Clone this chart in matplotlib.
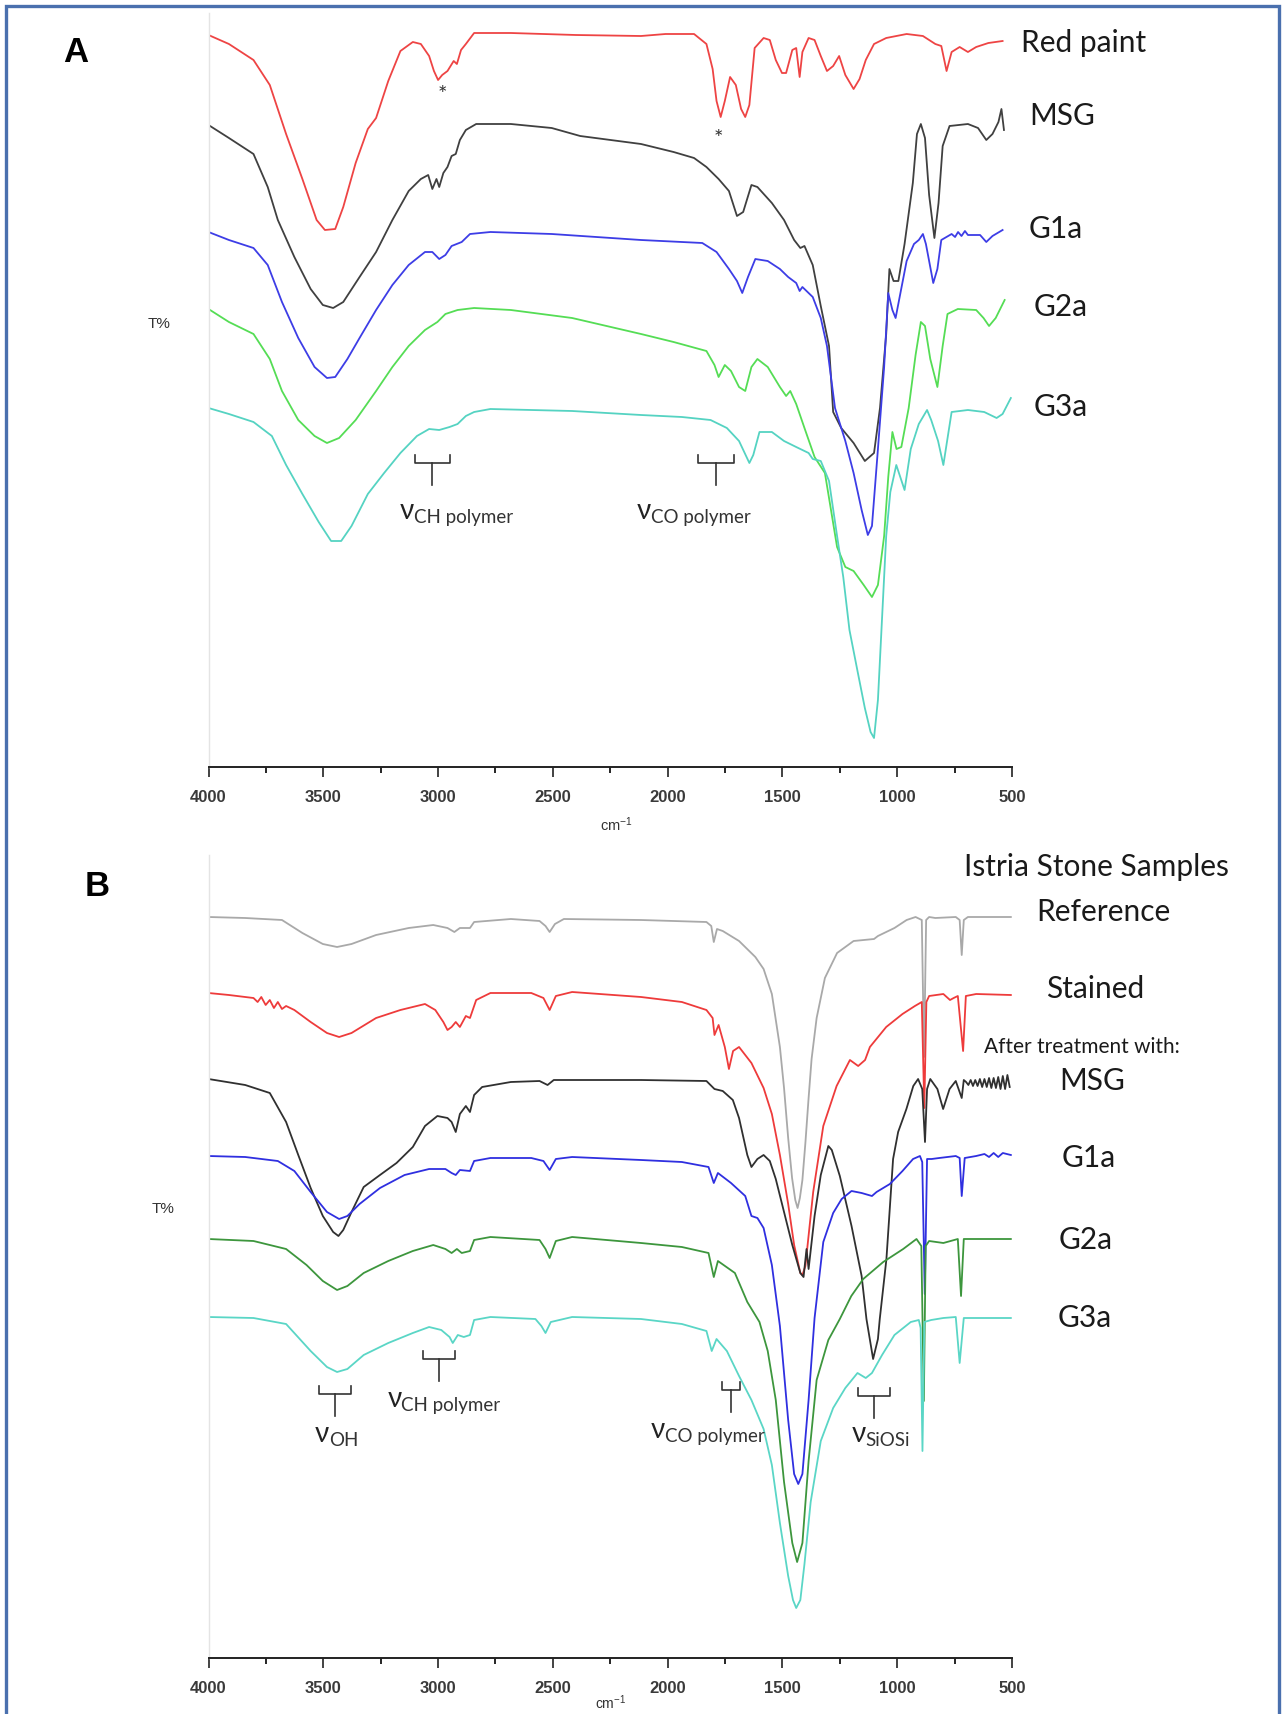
import matplotlib
matplotlib.use("Agg")
import matplotlib.pyplot as plt
from matplotlib.patches import Rectangle
from matplotlib.ticker import MultipleLocator

plt.rcParams['font.family'] = ['Lato', 'DejaVu Sans']
plt.rcParams['mathtext.default'] = 'regular'

# ---- Panel A: (wavenumber cm-1, T% offset a.u.) ----
red_paint = [(4000, 732), (3911, 723), (3804, 707), (3733, 682), (3662, 633), (3591, 588), (3529, 547),
             (3493, 537), (3448, 538), (3413, 560), (3359, 604), (3306, 638), (3270, 649), (3217, 686),
             (3164, 716), (3110, 725), (3075, 723), (3039, 711), (3018, 696), (3000, 687), (2982, 692),
             (2959, 696), (2932, 706), (2918, 703), (2900, 717), (2879, 723), (2843, 734), (2683, 734),
             (2400, 732), (2116, 731), (2009, 733), (1885, 733), (1831, 723), (1804, 698), (1787, 666),
             (1769, 650), (1751, 666), (1728, 690), (1703, 682), (1680, 658), (1662, 650), (1644, 662),
             (1621, 719), (1582, 729), (1555, 727), (1529, 707), (1502, 694), (1484, 694), (1457, 717),
             (1440, 719), (1425, 690), (1413, 715), (1386, 729), (1360, 727), (1333, 711), (1306, 696),
             (1279, 701), (1253, 711), (1226, 692), (1190, 678), (1164, 688), (1137, 707), (1101, 723),
             (1048, 729), (959, 733), (888, 731), (834, 723), (808, 721), (785, 696), (763, 715),
             (728, 720), (692, 715), (656, 720), (603, 724), (541, 726)]

msg_a = [(4000, 642), (3911, 629), (3804, 613), (3742, 580), (3698, 547), (3626, 510), (3555, 478),
         (3502, 462), (3457, 459), (3413, 465), (3342, 490), (3270, 515), (3199, 547), (3128, 576),
         (3075, 588), (3043, 592), (3025, 578), (3007, 588), (2995, 580), (2977, 594), (2959, 600),
         (2941, 611), (2923, 613), (2905, 627), (2879, 637), (2834, 643), (2683, 643), (2505, 639),
         (2381, 631), (2116, 623), (1974, 615), (1885, 609), (1831, 600), (1778, 588), (1733, 576),
         (1698, 551), (1671, 555), (1635, 582), (1609, 580), (1546, 564), (1493, 547), (1449, 527),
         (1422, 519), (1404, 521), (1368, 502), (1333, 461), (1297, 421), (1279, 355), (1244, 339),
         (1190, 324), (1141, 306), (1101, 314), (1075, 359), (1048, 433), (1034, 498), (1016, 486),
         (995, 486), (968, 523), (932, 584), (914, 633), (897, 643), (879, 629), (861, 572), (838, 529),
         (820, 564), (802, 621), (772, 641), (692, 643), (648, 639), (612, 627), (585, 633), (559, 645),
         (546, 658), (535, 637)]

g1a_a = [(4000, 535), (3911, 527), (3804, 519), (3742, 502), (3680, 465), (3609, 429), (3538, 400),
         (3484, 389), (3448, 390), (3395, 408), (3342, 429), (3270, 457), (3199, 482), (3128, 502),
         (3057, 515), (3025, 515), (2995, 508), (2968, 512), (2941, 521), (2897, 525), (2861, 533),
         (2772, 535), (2505, 533), (2116, 527), (1849, 524), (1787, 515), (1733, 498), (1698, 486),
         (1675, 474), (1650, 490), (1618, 508), (1564, 506), (1511, 498), (1475, 490), (1440, 484),
         (1425, 476), (1413, 480), (1368, 470), (1333, 449), (1306, 421), (1271, 359), (1226, 326),
         (1190, 294), (1155, 257), (1128, 232), (1110, 241), (1084, 318), (1057, 400), (1039, 474),
         (1021, 457), (1007, 449), (986, 474), (959, 506), (927, 523), (906, 527), (888, 533),
         (875, 523), (861, 506), (843, 484), (825, 498), (808, 527), (763, 533), (748, 530), (735, 535),
         (720, 531), (705, 536), (692, 532), (639, 532), (612, 525), (585, 531), (541, 537)]

g2a_a = [(4000, 458), (3911, 445), (3804, 433), (3733, 408), (3680, 376), (3609, 347), (3538, 331),
         (3484, 324), (3431, 329), (3359, 347), (3270, 376), (3199, 400), (3128, 421), (3057, 437),
         (3003, 445), (2968, 453), (2915, 457), (2843, 459), (2683, 457), (2416, 449), (2116, 433),
         (1974, 425), (1831, 416), (1796, 402), (1778, 390), (1751, 402), (1724, 396), (1689, 380),
         (1662, 376), (1635, 400), (1609, 408), (1564, 400), (1511, 380), (1484, 371), (1466, 376),
         (1440, 363), (1404, 339), (1360, 310), (1315, 294), (1297, 269), (1262, 220), (1226, 200),
         (1190, 196), (1146, 182), (1110, 170), (1084, 182), (1057, 231), (1039, 290), (1021, 335),
         (1003, 318), (982, 320), (950, 359), (920, 412), (897, 445), (879, 441), (856, 408),
         (825, 380), (802, 421), (781, 453), (736, 458), (656, 457), (624, 449), (600, 441),
         (571, 449), (532, 467)]

g3a_a = [(4000, 359), (3911, 353), (3804, 345), (3724, 331), (3662, 302), (3591, 273), (3520, 245),
         (3466, 226), (3422, 226), (3377, 241), (3306, 273), (3235, 294), (3164, 314), (3092, 331),
         (3039, 338), (2995, 337), (2950, 340), (2915, 343), (2879, 351), (2843, 355), (2772, 358),
         (2416, 356), (2116, 352), (1938, 350), (1813, 347), (1742, 339), (1689, 326), (1644, 304),
         (1627, 312), (1600, 335), (1546, 335), (1493, 326), (1440, 320), (1386, 314), (1368, 308),
         (1333, 306), (1297, 286), (1262, 231), (1235, 190), (1208, 137), (1173, 96), (1141, 59),
         (1116, 35), (1101, 29), (1084, 67), (1066, 149), (1048, 231), (1030, 275), (1004, 302),
         (968, 277), (941, 318), (906, 343), (870, 357), (852, 347), (822, 326), (799, 302),
         (763, 355), (692, 357), (621, 355), (567, 349), (541, 353), (505, 369)]

# ---- Panel B: Istria stone samples ----
reference = [(4000, 741), (3840, 740), (3680, 738), (3591, 725), (3502, 714), (3440, 711), (3377, 714),
             (3270, 723), (3128, 730), (3021, 733), (2959, 730), (2929, 726), (2905, 730), (2861, 730),
             (2843, 736), (2683, 739), (2558, 737), (2532, 732), (2514, 726), (2491, 734), (2452, 739),
             (2116, 738), (1831, 736), (1810, 732), (1799, 716), (1785, 729), (1760, 727), (1689, 717),
             (1618, 701), (1582, 689), (1546, 664), (1511, 611), (1493, 570), (1475, 520), (1458, 480),
             (1444, 458), (1434, 450), (1424, 460), (1413, 478), (1400, 515), (1386, 560), (1373, 599),
             (1351, 640), (1315, 680), (1262, 705), (1190, 717), (1101, 719), (1084, 722), (1012, 730),
             (959, 738), (920, 741), (893, 738), (883, 601), (874, 738), (861, 741), (834, 740),
             (745, 741), (728, 738), (719, 703), (710, 738), (692, 741), (505, 741)]

stained = [(4000, 665), (3911, 663), (3840, 661), (3804, 660), (3786, 656), (3770, 661), (3751, 653),
           (3733, 658), (3715, 650), (3698, 656), (3680, 649), (3662, 652), (3626, 648), (3555, 636),
           (3484, 625), (3431, 621), (3377, 625), (3270, 640), (3164, 648), (3057, 654), (3012, 648),
           (2977, 636), (2959, 628), (2941, 631), (2923, 636), (2905, 631), (2879, 642), (2861, 640),
           (2834, 658), (2772, 665), (2594, 665), (2541, 660), (2514, 648), (2487, 662), (2416, 666),
           (2116, 661), (1938, 656), (1831, 648), (1804, 640), (1796, 623), (1778, 633), (1751, 611),
           (1733, 589), (1715, 607), (1689, 611), (1635, 595), (1582, 570), (1546, 544), (1511, 503),
           (1475, 454), (1449, 413), (1422, 385), (1413, 383), (1400, 392), (1366, 466), (1322, 532),
           (1264, 572), (1206, 598), (1170, 592), (1140, 598), (1119, 611), (1048, 631), (977, 644),
           (923, 652), (893, 656), (882, 550), (873, 656), (861, 662), (799, 664), (770, 658),
           (754, 660), (736, 662), (713, 607), (701, 662), (656, 664), (505, 663)]

msg_b = [(4000, 579), (3840, 573), (3733, 565), (3662, 536), (3609, 503), (3555, 470), (3502, 442),
         (3457, 426), (3434, 422), (3413, 428), (3377, 446), (3324, 471), (3253, 483), (3181, 495),
         (3110, 511), (3057, 532), (3003, 542), (2959, 540), (2941, 536), (2923, 526), (2905, 544),
         (2879, 552), (2861, 546), (2843, 563), (2808, 571), (2683, 576), (2558, 577), (2523, 573),
         (2496, 578), (2116, 578), (1831, 577), (1796, 569), (1760, 567), (1716, 558), (1689, 540),
         (1653, 503), (1635, 491), (1609, 499), (1582, 503), (1555, 497), (1529, 479), (1493, 446),
         (1457, 413), (1422, 385), (1408, 381), (1395, 409), (1386, 389), (1360, 442), (1333, 483),
         (1300, 512), (1285, 508), (1250, 482), (1199, 432), (1155, 382), (1134, 339), (1105, 299),
         (1084, 319), (1076, 339), (1047, 399), (1018, 499), (996, 526), (960, 549), (930, 572),
         (909, 579), (891, 569), (879, 516), (870, 569), (856, 579), (825, 569), (800, 549),
         (772, 569), (745, 577), (719, 560), (710, 578), (700, 576), (690, 573), (680, 578),
         (670, 572), (660, 578), (650, 572), (640, 579), (630, 571), (620, 579), (610, 571),
         (600, 580), (590, 570), (580, 580), (570, 570), (560, 581), (550, 569), (540, 582),
         (530, 569), (520, 583), (510, 571)]

g1a_b = [(4000, 502), (3840, 501), (3698, 497), (3626, 487), (3555, 466), (3484, 446), (3431, 439),
         (3395, 442), (3342, 454), (3253, 470), (3146, 483), (3039, 489), (2968, 489), (2941, 485),
         (2923, 483), (2905, 488), (2861, 487), (2843, 497), (2772, 500), (2594, 500), (2541, 497),
         (2514, 488), (2487, 499), (2416, 501), (2116, 498), (1938, 496), (1822, 491), (1799, 475),
         (1781, 485), (1724, 475), (1662, 462), (1635, 442), (1609, 440), (1582, 430), (1546, 393),
         (1511, 332), (1475, 238), (1449, 184), (1431, 174), (1413, 184), (1386, 258), (1360, 340),
         (1322, 416), (1279, 445), (1242, 459), (1199, 467), (1155, 465), (1110, 462), (1090, 466),
         (1032, 474), (977, 487), (931, 499), (901, 502), (891, 496), (880, 364), (870, 499),
         (850, 499), (817, 500), (745, 502), (728, 500), (719, 462), (706, 500), (656, 502),
         (620, 504), (600, 501), (580, 505), (560, 501), (540, 505), (505, 503)]

g2a_b = [(4000, 419), (3804, 417), (3662, 409), (3573, 393), (3502, 377), (3440, 368), (3395, 372),
         (3324, 385), (3217, 397), (3110, 407), (3021, 413), (2968, 409), (2941, 405), (2918, 409),
         (2897, 405), (2861, 407), (2843, 418), (2772, 421), (2558, 418), (2532, 409), (2514, 400),
         (2487, 417), (2416, 421), (2116, 415), (1938, 411), (1822, 405), (1799, 381), (1781, 397),
         (1707, 385), (1653, 356), (1600, 336), (1564, 307), (1529, 258), (1493, 176), (1457, 115),
         (1436, 96), (1413, 115), (1386, 197), (1351, 278), (1300, 318), (1250, 339), (1200, 362),
         (1148, 379), (1061, 396), (974, 409), (916, 419), (895, 412), (884, 257), (876, 412),
         (861, 417), (799, 415), (736, 419), (722, 362), (710, 419), (505, 419)]

g3a_b = [(4000, 341), (3804, 340), (3662, 334), (3555, 307), (3484, 291), (3440, 286), (3395, 289),
         (3324, 303), (3217, 315), (3110, 325), (3039, 331), (2986, 328), (2950, 321), (2936, 315),
         (2914, 323), (2888, 321), (2861, 323), (2843, 338), (2772, 341), (2576, 339), (2550, 332),
         (2532, 325), (2509, 336), (2416, 341), (2116, 339), (1938, 334), (1831, 327), (1808, 307),
         (1787, 319), (1742, 307), (1689, 282), (1635, 258), (1582, 229), (1546, 193), (1511, 135),
         (1475, 82), (1454, 58), (1440, 50), (1422, 58), (1404, 94), (1377, 156), (1333, 217),
         (1279, 250), (1226, 270), (1173, 285), (1137, 280), (1110, 285), (1066, 303), (1012, 323),
         (941, 336), (906, 338), (898, 330), (890, 207), (882, 336), (852, 338), (799, 340),
         (745, 341), (728, 295), (710, 340), (505, 340)]

# band annotations: (label subscript, wn edge, wn edge)
bands_a = [("CH polymer", 3101, 2950), ("CO polymer", 1867, 1710)]
bands_b = [("OH", 3520, 3381), ("CH polymer", 3066, 2927), ("CO polymer", 1765, 1683), ("SiOSi", 1169, 1030)]


def fx(px):
    return px / 1282


def fy(py):
    return 1 - py / 1715


fig = plt.figure(figsize=(12.82, 17.15), dpi=100)
fig.patches.append(Rectangle((fx(6), fy(1730)), fx(1279) - fx(6), fy(7) - fy(1730),
                             transform=fig.transFigure, fill=False, edgecolor='#4a70ae', lw=2.4))

axA = fig.add_axes([fx(208.5), fy(768), fx(1012) - fx(208.5), fy(14) - fy(768)])
axB = fig.add_axes([fx(208.5), fy(1659), fx(1012) - fx(208.5), fy(856) - fy(1659)])


def style(ax, top):
    ax.set_xlim(4000, 500)
    ax.set_ylim(0, top)
    for s in ['top', 'right']:
        ax.spines[s].set_visible(False)
    ax.spines['left'].set_color('#e4e4e4')
    ax.spines['left'].set_linewidth(1.0)
    ax.spines['bottom'].set_linewidth(1.4)
    ax.spines['bottom'].set_color('#222222')
    ax.set_yticks([])
    ax.xaxis.set_major_locator(MultipleLocator(500))
    ax.xaxis.set_minor_locator(MultipleLocator(250))
    ax.tick_params(axis='x', which='major', direction='out', length=7.5, width=1.2, pad=8,
                   labelsize=12, colors='#222222')
    ax.tick_params(axis='x', which='minor', direction='out', length=4.5, width=1.2)
    for lab in ax.get_xticklabels():
        lab.set_family('Liberation Sans')
        lab.set_fontweight('bold')
        lab.set_color('#3a3a3a')


def trace(ax, pts, color):
    wn = [p[0] for p in pts]
    t = [p[1] for p in pts]
    ax.plot(wn, t, color=color, lw=1.3, solid_joinstyle='round')


def band(ax, sub, w1, w2, h, lab_wn, lab_h):
    ax.plot([w1, w1, w2, w2], [h + 8, h, h, h + 8], color='#333333', lw=1.2)
    mid = (w1 + w2) / 2
    ax.plot([mid, mid], [h, h - 22], color='#333333', lw=1.2)
    ax.text(lab_wn, lab_h, 'ν', fontsize=20, ha='left', va='center', color='#222222',
            family=['Lato', 'DejaVu Sans'])
    ax.annotate(sub, xy=(lab_wn, lab_h), xytext=(10, -5), textcoords='offset points',
                fontsize=13.5, ha='left', va='center', color='#333333')


style(axA, 754)
style(axB, 803)

for pts, c in [(red_paint, '#ee4444'), (msg_a, '#404040'), (g1a_a, '#3d3de6'),
               (g2a_a, '#55dd55'), (g3a_a, '#55d3c2')]:
    trace(axA, pts, c)

for pts, c in [(reference, '#a9a9a9'), (stained, '#ee3b3b'), (msg_b, '#303030'),
               (g1a_b, '#2f2fe0'), (g2a_b, '#3d963d'), (g3a_b, '#5ad6c6')]:
    trace(axB, pts, c)

# asterisks on the red paint spectrum
axA.text(2983, 673, '*', fontsize=16, ha='center', va='center', color='#333333')
axA.text(1778, 629, '*', fontsize=16, ha='center', va='center', color='#333333')

band(axA, bands_a[0][0], bands_a[0][1], bands_a[0][2], 304, 3166, 257)
band(axA, bands_a[1][0], bands_a[1][1], bands_a[1][2], 304, 2134, 257)
band(axB, bands_b[0][0], bands_b[0][1], bands_b[0][2], 264, 3537, 225)
band(axB, bands_b[1][0], bands_b[1][1], bands_b[1][2], 299, 3220, 260)
band(axB, bands_b[2][0], bands_b[2][1], bands_b[2][2], 268, 2073, 229)
band(axB, bands_b[3][0], bands_b[3][1], bands_b[3][2], 262, 1200, 225)

axA.text(0.508, -0.0756, 'cm$^{-1}$', transform=axA.transAxes, ha='center', va='center',
         fontsize=10.5, family='Liberation Sans', color='#333333')
axB.text(0.5, -0.054, 'cm$^{-1}$', transform=axB.transAxes, ha='center', va='center',
         fontsize=10, family='Liberation Sans', color='#333333')

fig.text(fx(159), fy(324), 'T%', fontsize=11, family='Liberation Sans', ha='center', va='center',
         color='#333333')
fig.text(fx(163), fy(1209), 'T%', fontsize=11, family='Liberation Sans', ha='center', va='center',
         color='#333333')

fig.text(fx(76), fy(53), 'A', fontsize=25, fontweight='bold', family='Liberation Sans',
         ha='center', va='center')
fig.text(fx(97), fy(887), 'B', fontsize=25, fontweight='bold', family='Liberation Sans',
         ha='center', va='center')

labels_a = [("Red paint", 1021, 43), ("MSG", 1029, 116), ("G1a", 1029, 229),
            ("G2a", 1034, 307), ("G3a", 1034, 407)]
for s, x, y in labels_a:
    fig.text(fx(x), fy(y), s, fontsize=21.5, ha='left', va='center', color='#1a1a1a')

labels_b = [("Istria Stone Samples", 964, 867), ("Reference", 1036, 912), ("Stained", 1046, 989),
            ("MSG", 1059, 1081), ("G1a", 1062, 1158), ("G2a", 1059, 1240), ("G3a", 1058, 1318)]
for s, x, y in labels_b:
    fig.text(fx(x), fy(y), s, fontsize=21.5, ha='left', va='center', color='#1a1a1a')
fig.text(fx(984), fy(1047), "After treatment with:", fontsize=15, ha='left', va='center',
         color='#1a1a1a')

fig.savefig('out.png', dpi=100)
